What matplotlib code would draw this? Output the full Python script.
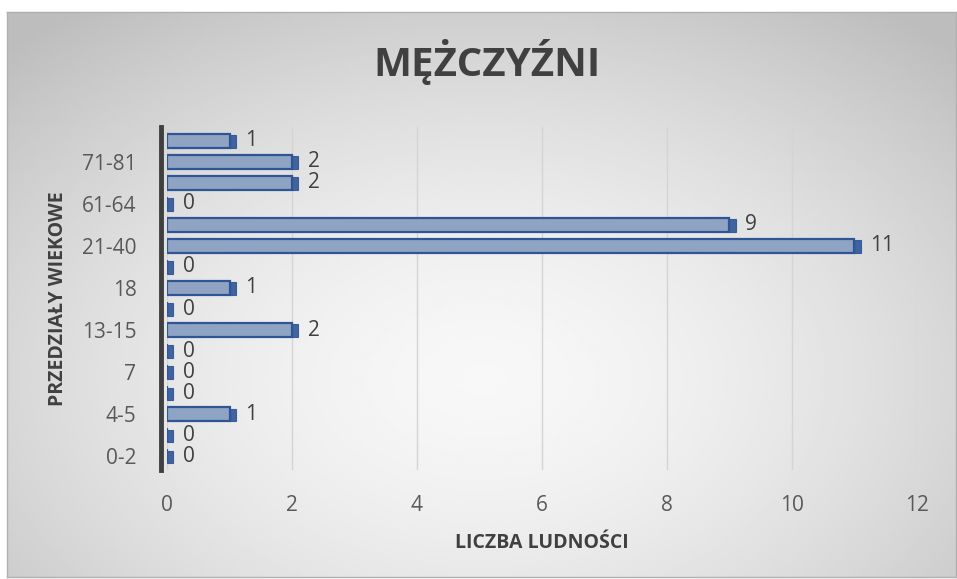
import matplotlib.pyplot as plt
import numpy as np

# values from bottom (0-2) to top
values = [0, 0, 1, 0, 0, 0, 2, 0, 1, 0, 11, 9, 0, 2, 2, 1]
# only every second category label is readable in the chart
shown_positions = [0, 2, 4, 6, 8, 10, 12, 14]
shown_labels = ['0-2', '4-5', '7', '13-15', '18', '21-40', '61-64', '71-81']
x_ticks = [0, 2, 4, 6, 8, 10, 12]

title = 'MĘŻCZYŹNI'
x_title = 'LICZBA LUDNOŚCI'
y_title = 'PRZEDZIAŁY WIEKOWE'

plt.rcParams['font.family'] = ['Open Sans', 'DejaVu Sans']

W, H = 957, 579
fig = plt.figure(figsize=(W / 100, H / 100), dpi=100)

# gray gradient background inside the frame
bg = fig.add_axes([7 / W, 2 / H, 949 / W, 565 / H])
gx, gy = np.meshgrid(np.linspace(-1, 1, 300), np.linspace(-1, 1, 200))
r = np.clip(np.sqrt((gx * 0.9) ** 2 + ((gy + 0.3) * 0.8) ** 2), 0, 1.3)
bg.imshow(0.97 - 0.15 * r ** 1.6, cmap='gray', vmin=0, vmax=1,
          aspect='auto', extent=[0, 1, 0, 1], interpolation='bilinear',
          origin='lower')
bg.set_xticks([])
bg.set_yticks([])
for s in bg.spines.values():
    s.set_color('#b0b0b0')
    s.set_linewidth(1)

ax = fig.add_axes([167 / W, 1 - 470 / H, 750 / W, 343 / H])
ax.patch.set_alpha(0)

ypos = np.arange(len(values))
bar_face = '#8ea4c2'
bar_edge = '#2f5597'
ax.barh(ypos, values, height=0.68, color=bar_face, edgecolor=bar_edge,
        linewidth=1.6, zorder=3)
# darker end face of each bar (3D look)
ax.barh(ypos - 0.03, [0.1] * len(values), left=values, height=0.6,
        color='#2f5597', edgecolor='#2f5597', linewidth=0.8, alpha=0.9,
        zorder=4)

for y, v in zip(ypos, values):
    ax.text(v + 0.25, y, str(v), va='center', ha='left', fontsize=15,
            color='#404040', zorder=5)

ax.set_xlim(0, 12)
ax.set_ylim(-0.65, len(values) - 0.35)
ax.set_xticks(x_ticks)
ax.set_xticklabels([str(t) for t in x_ticks])
ax.set_yticks(shown_positions)
ax.set_yticklabels(shown_labels)
ax.tick_params(axis='both', length=0, labelsize=15, colors='#595959')
ax.tick_params(axis='x', pad=18)
ax.tick_params(axis='y', pad=18)

ax.grid(axis='x', color='#d4d4d4', linewidth=1, zorder=0)
for side in ['top', 'right', 'bottom']:
    ax.spines[side].set_visible(False)
ax.spines['left'].set_color('#404040')
ax.spines['left'].set_linewidth(3.5)
ax.spines['left'].set_position(('outward', 4))

ax.set_xlabel(x_title, fontsize=14, fontweight='bold', color='#404040',
              labelpad=12)
ax.set_ylabel(y_title, fontsize=14, fontweight='bold', color='#404040',
              labelpad=10)

fig.text(487 / W, 1 - 62 / H, title, ha='center', va='center',
         fontsize=29, fontweight='bold', color='#404040')

plt.savefig('out.png', dpi=100)
